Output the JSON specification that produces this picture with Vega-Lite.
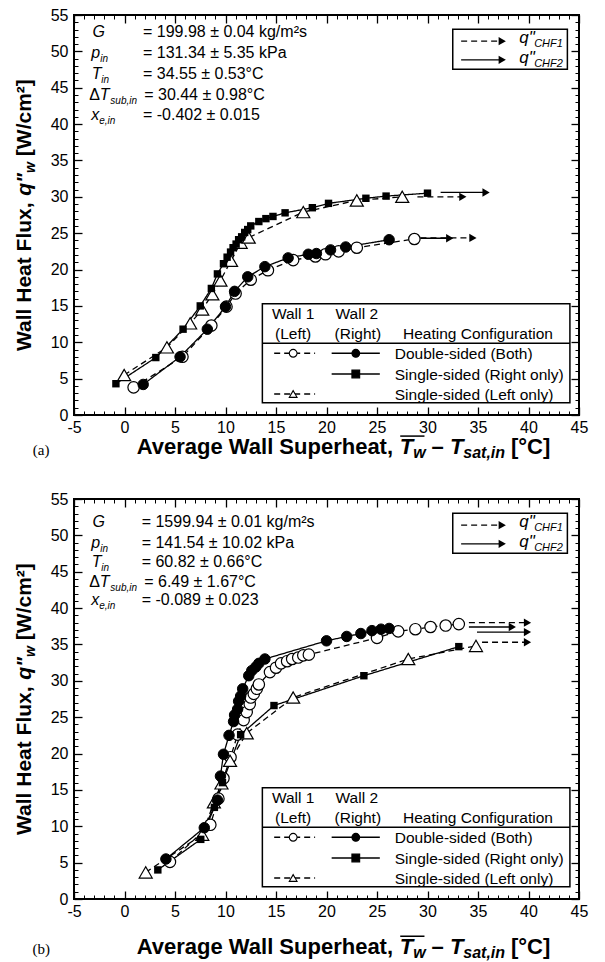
{
"$schema":"https://vega.github.io/schema/vega-lite/v6.json",
"background":"white",
"padding":{"left":12,"top":6,"right":5,"bottom":5},
"autosize":{"type":"pad"},
"config":{"font":"Liberation Sans","view":{"stroke":"black","strokeWidth":2},"axis":{"labelFont":"Liberation Sans"}},
"datasets":{
"sa":[
{"s":"dbl1","x":0.9,"q":3.8},{"s":"dbl1","x":5.74,"q":8.0},{"s":"dbl1","x":8.6,"q":12.3},{"s":"dbl1","x":10.1,"q":14.9},{"s":"dbl1","x":11.0,"q":16.7},{"s":"dbl1","x":12.5,"q":18.6},{"s":"dbl1","x":14.2,"q":19.9},{"s":"dbl1","x":16.7,"q":21.3},{"s":"dbl1","x":18.9,"q":21.8},{"s":"dbl1","x":19.9,"q":22.1},{"s":"dbl1","x":21.2,"q":22.5},{"s":"dbl1","x":23.0,"q":23.0},{"s":"dbl1","x":28.7,"q":24.2},
{"s":"dbl2","x":1.85,"q":4.2},{"s":"dbl2","x":5.5,"q":8.0},{"s":"dbl2","x":8.2,"q":11.8},{"s":"dbl2","x":10.0,"q":14.9},{"s":"dbl2","x":10.9,"q":17.0},{"s":"dbl2","x":12.2,"q":19.0},{"s":"dbl2","x":13.9,"q":20.4},{"s":"dbl2","x":16.2,"q":21.6},{"s":"dbl2","x":18.2,"q":22.1},{"s":"dbl2","x":19.0,"q":22.2},{"s":"dbl2","x":20.4,"q":22.7},{"s":"dbl2","x":21.9,"q":23.1},{"s":"dbl2","x":26.2,"q":24.1},
{"s":"rt","x":-0.85,"q":4.3},{"s":"rt","x":3.1,"q":7.9},{"s":"rt","x":5.8,"q":11.8},{"s":"rt","x":7.5,"q":15.0},{"s":"rt","x":8.6,"q":17.4},{"s":"rt","x":9.2,"q":19.4},{"s":"rt","x":9.8,"q":20.8},{"s":"rt","x":10.16,"q":21.7},{"s":"rt","x":10.5,"q":22.4},{"s":"rt","x":10.75,"q":23.0},{"s":"rt","x":11.05,"q":23.5},{"s":"rt","x":11.3,"q":24.1},{"s":"rt","x":11.6,"q":24.5},{"s":"rt","x":11.9,"q":25.1},{"s":"rt","x":12.2,"q":25.5},{"s":"rt","x":12.5,"q":26.0},{"s":"rt","x":13.3,"q":26.6},{"s":"rt","x":14.0,"q":27.0},{"s":"rt","x":14.7,"q":27.3},{"s":"rt","x":15.9,"q":27.8},{"s":"rt","x":18.6,"q":28.5},{"s":"rt","x":20.2,"q":29.1},{"s":"rt","x":23.9,"q":29.8},{"s":"rt","x":25.9,"q":30.1},{"s":"rt","x":30.0,"q":30.5},
{"s":"lt","x":-0.03,"q":5.5},{"s":"lt","x":4.2,"q":9.3},{"s":"lt","x":6.5,"q":12.6},{"s":"lt","x":7.7,"q":14.5},{"s":"lt","x":8.7,"q":16.6},{"s":"lt","x":9.5,"q":18.5},{"s":"lt","x":10.55,"q":21.2},{"s":"lt","x":11.5,"q":23.7},{"s":"lt","x":12.3,"q":24.4},{"s":"lt","x":17.7,"q":27.9},{"s":"lt","x":23.0,"q":29.5},{"s":"lt","x":27.5,"q":30.0}
],
"sb":[
{"s":"dbl1","x":4.5,"q":5.1},{"s":"dbl1","x":8.5,"q":10.2},{"s":"dbl1","x":9.3,"q":13.8},{"s":"dbl1","x":9.8,"q":16.6},{"s":"dbl1","x":10.5,"q":19.5},{"s":"dbl1","x":11.2,"q":22.6},{"s":"dbl1","x":11.8,"q":24.6},{"s":"dbl1","x":12.1,"q":25.7},{"s":"dbl1","x":12.4,"q":26.8},{"s":"dbl1","x":12.5,"q":27.7},{"s":"dbl1","x":12.8,"q":28.2},{"s":"dbl1","x":13.1,"q":28.9},{"s":"dbl1","x":13.3,"q":29.5},{"s":"dbl1","x":14.4,"q":31.2},{"s":"dbl1","x":15.0,"q":31.8},{"s":"dbl1","x":15.5,"q":32.4},{"s":"dbl1","x":16.1,"q":32.7},{"s":"dbl1","x":16.6,"q":33.0},{"s":"dbl1","x":17.2,"q":33.2},{"s":"dbl1","x":17.7,"q":33.5},{"s":"dbl1","x":18.25,"q":33.6},{"s":"dbl1","x":25.0,"q":35.9},{"s":"dbl1","x":27.1,"q":36.8},{"s":"dbl1","x":28.8,"q":37.1},{"s":"dbl1","x":30.3,"q":37.4},{"s":"dbl1","x":31.8,"q":37.6},{"s":"dbl1","x":33.1,"q":37.8},
{"s":"dbl2","x":4.1,"q":5.5},{"s":"dbl2","x":7.9,"q":9.8},{"s":"dbl2","x":9.2,"q":13.6},{"s":"dbl2","x":9.5,"q":16.9},{"s":"dbl2","x":9.8,"q":19.9},{"s":"dbl2","x":10.35,"q":22.5},{"s":"dbl2","x":10.8,"q":24.4},{"s":"dbl2","x":10.9,"q":25.3},{"s":"dbl2","x":11.2,"q":26.1},{"s":"dbl2","x":11.3,"q":27.2},{"s":"dbl2","x":11.5,"q":27.9},{"s":"dbl2","x":11.7,"q":28.9},{"s":"dbl2","x":12.3,"q":30.7},{"s":"dbl2","x":12.6,"q":31.4},{"s":"dbl2","x":13.0,"q":31.9},{"s":"dbl2","x":13.3,"q":32.4},{"s":"dbl2","x":13.9,"q":33.0},{"s":"dbl2","x":20.0,"q":35.5},{"s":"dbl2","x":22.0,"q":36.1},{"s":"dbl2","x":23.4,"q":36.5},{"s":"dbl2","x":24.5,"q":36.9},{"s":"dbl2","x":25.4,"q":37.1},{"s":"dbl2","x":26.2,"q":37.2},
{"s":"rt","x":3.3,"q":4.0},{"s":"rt","x":7.55,"q":8.2},{"s":"rt","x":8.9,"q":12.6},{"s":"rt","x":9.7,"q":16.0},{"s":"rt","x":11.5,"q":22.6},{"s":"rt","x":14.8,"q":26.6},{"s":"rt","x":23.7,"q":30.7},{"s":"rt","x":33.1,"q":34.7},
{"s":"lt","x":2.1,"q":3.66},{"s":"lt","x":7.7,"q":8.85},{"s":"lt","x":8.85,"q":13.3},{"s":"lt","x":9.6,"q":15.9},{"s":"lt","x":10.45,"q":19.0},{"s":"lt","x":12.1,"q":22.8},{"s":"lt","x":16.7,"q":27.7},{"s":"lt","x":28.1,"q":33.0},{"s":"lt","x":34.8,"q":34.8}
],
"aa":[
{"k":"CHF2","x":31.3,"x2":35.8,"q":30.6},{"k":"CHF1","x":29.0,"x2":33.5,"q":30.0},{"k":"CHF1","x":29.3,"x2":34.5,"q":24.35},{"k":"CHF2","x":29.3,"x2":32.2,"q":24.3},
{"k":"CHF1","x":33.33,"x2":37.4,"q":51.4},{"k":"CHF2","x":33.33,"x2":37.4,"q":48.83}
],
"ab":[
{"k":"CHF1","x":34.1,"x2":39.9,"q":38.0},{"k":"CHF2","x":34.1,"x2":38.4,"q":37.4},{"k":"CHF2","x":34.9,"x2":39.9,"q":36.7},{"k":"CHF1","x":35.4,"x2":39.9,"q":35.3},
{"k":"CHF1","x":33.33,"x2":37.4,"q":51.4},{"k":"CHF2","x":33.33,"x2":37.4,"q":48.83}
],
"lg":[
{"r":"box","x":32.5,"x2":43.85,"q":53.05,"q2":47.55},{"r":"box","x":13.65,"x2":44.1,"q":15.3,"q2":1.7},
{"r":"div","x":13.65,"x2":44.1,"q":9.86},
{"r":"sl","s":"dbl1","x":14.82,"x2":18.87,"q":8.49},{"r":"sl","s":"dbl2","x":20.51,"x2":25.28,"q":8.49},{"r":"sl","s":"rt","x":20.51,"x2":25.28,"q":5.64},{"r":"sl","s":"lt","x":14.82,"x2":18.87,"q":2.89},
{"r":"mk","s":"dbl1","x":16.7,"q":8.49},{"r":"mk","s":"dbl2","x":22.9,"q":8.49},{"r":"mk","s":"rt","x":22.9,"q":5.64},{"r":"mk","s":"lt","x":16.7,"q":2.89}
],
"lt":[
{"r":"lc","t":"Wall 1","x":16.7,"q":13.14},{"r":"lc","t":"(Left)","x":16.7,"q":10.39},{"r":"lc","t":"Wall 2","x":23.0,"q":13.14},{"r":"lc","t":"(Right)","x":23.1,"q":10.39},
{"r":"ll","t":"Heating Configuration","x":27.57,"q":10.39},{"r":"ll","t":"Double-sided (Both)","x":26.76,"q":7.73},{"r":"ll","t":"Single-sided (Right only)","x":26.76,"q":4.88},{"r":"ll","t":"Single-sided (Left only)","x":26.76,"q":2.13},
{"r":"cq","t":"q\"","x":39.08,"q":51.1},{"r":"cq","t":"q\"","x":39.08,"q":48.4},{"r":"cs","t":"CHF1","x":40.56,"q":51.1},{"r":"cs","t":"CHF2","x":40.56,"q":48.4},
{"r":"yt","t":"Wall Heat Flux,","x":-9.29,"q":8.8},{"r":"yti","t":"q\"","x":-9.29,"q":30.15},{"r":"yts","t":"w","x":-9.29,"q":33.29},{"r":"yt","t":"[W/cm²]","x":-9.29,"q":35.59}
],
"ta":[
{"r":"sym","t":"G","x":-3.16,"q":51.94},{"r":"sym","t":"p","x":-3.3,"q":49.08},{"r":"sym","t":"T","x":-3.25,"q":46.2},{"r":"sym","t":"T","x":-2.45,"q":43.37},{"r":"sym","t":"x","x":-3.3,"q":40.5},
{"r":"sub","t":"in","x":-2.4,"q":49.08},{"r":"sub","t":"in","x":-2.3,"q":46.2},{"r":"sub","t":"sub,in","x":-1.4,"q":43.37},{"r":"sub","t":"e,in","x":-2.5,"q":40.5},
{"r":"val","t":"= 199.98 ± 0.04 kg/m²s","x":1.83,"q":51.94},{"r":"val","t":"= 131.34 ± 5.35 kPa","x":1.83,"q":49.08},{"r":"val","t":"= 34.55 ± 0.53°C","x":1.83,"q":46.2},{"r":"val","t":"Δ","x":-3.49,"q":43.37},{"r":"val","t":"= 30.44 ± 0.98°C","x":1.95,"q":43.37},{"r":"val","t":"= -0.402 ± 0.015","x":1.83,"q":40.5},
{"r":"xt","t":"Average Wall Superheat,","x":1.21,"q":-5.36},{"r":"xti","t":"T","x":27.26,"q":-5.36},{"r":"xts","t":"w","x":28.58,"q":-5.36},{"r":"xt","t":"–","x":30.4,"q":-5.36},{"r":"xti","t":"T","x":32.22,"q":-5.36},{"r":"xts","t":"sat,in","x":33.54,"q":-5.36},{"r":"xt","t":"[°C]","x":38.26,"q":-5.36},
{"r":"ol","x":27.3,"x2":29.7,"q":-2.9},
{"r":"lab","t":"(a)","x":-8.25,"q":-5.5}
],
"tb":[
{"r":"sym","t":"G","x":-3.16,"q":51.1},{"r":"sym","t":"p","x":-3.3,"q":48.2},{"r":"sym","t":"T","x":-3.25,"q":45.6},{"r":"sym","t":"T","x":-2.45,"q":42.96},{"r":"sym","t":"x","x":-3.3,"q":40.44},
{"r":"sub","t":"in","x":-2.4,"q":48.2},{"r":"sub","t":"in","x":-2.3,"q":45.6},{"r":"sub","t":"sub,in","x":-1.4,"q":42.96},{"r":"sub","t":"e,in","x":-2.5,"q":40.44},
{"r":"val","t":"= 1599.94 ± 0.01 kg/m²s","x":1.7,"q":51.1},{"r":"val","t":"= 141.54 ± 10.02 kPa","x":1.7,"q":48.2},{"r":"val","t":"= 60.82 ± 0.66°C","x":1.7,"q":45.6},{"r":"val","t":"Δ","x":-3.49,"q":42.96},{"r":"val","t":"= 6.49 ± 1.67°C","x":1.95,"q":42.96},{"r":"val","t":"= -0.089 ± 0.023","x":1.7,"q":40.44},
{"r":"xt","t":"Average Wall Superheat,","x":1.21,"q":-7.57},{"r":"xti","t":"T","x":27.26,"q":-7.57},{"r":"xts","t":"w","x":28.58,"q":-7.57},{"r":"xt","t":"–","x":30.4,"q":-7.57},{"r":"xti","t":"T","x":32.22,"q":-7.57},{"r":"xts","t":"sat,in","x":33.54,"q":-7.57},{"r":"xt","t":"[°C]","x":38.26,"q":-7.57},
{"r":"ol","x":27.3,"x2":29.7,"q":-5.12},
{"r":"lab","t":"(b)","x":-8.25,"q":-7.57}
]
},
"vconcat":[
{
"width":505,"height":400,
"resolve":{"axis":{"x":"independent","y":"independent"}},
"encoding":{"x":{"field":"x","type":"quantitative","scale":{"domain":[-5,45],"nice":false,"zero":false},"axis":null},"y":{"field":"q","type":"quantitative","scale":{"domain":[0,55],"nice":false,"zero":false},"axis":null}},
"layer":[
{"data":{"name":"lg"},"transform":[{"filter":"datum.r == 'box'"}],"mark":{"type":"rect","fill":"white","stroke":"black","strokeWidth":1.5},"encoding":{"x2":{"field":"x2"},"y2":{"field":"q2"}}},
{"data":{"name":"sa"},"mark":{"type":"line","color":"black","strokeWidth":1.3},
"encoding":{
"x":{"field":"x","type":"quantitative","scale":{"domain":[-5,45],"nice":false,"zero":false},"axis":{"orient":"bottom","values":[-5,0,5,10,15,20,25,30,35,40,45],"labelExpr":"'' + datum.value","ticks":false,"domain":false,"grid":false,"labelFontSize":16,"labelColor":"black","labelPadding":4,"labelFlush":false,"labelOverlap":false,"title":null}},
"y":{"field":"q","type":"quantitative","scale":{"domain":[0,55],"nice":false,"zero":false},"axis":{"orient":"left","values":[0,5,10,15,20,25,30,35,40,45,50,55],"ticks":false,"domain":false,"grid":false,"labelFontSize":16,"labelColor":"black","labelPadding":6,"labelFlush":false,"labelOverlap":false,"title":null}},
"strokeDash":{"field":"s","type":"nominal","scale":{"domain":["dbl1","lt","CHF1","dbl2","rt","CHF2"],"range":[[6,4],[6,4],[6,4],[1,0],[1,0],[1,0]]},"legend":null},
"order":{"field":"q","type":"quantitative"}}},
{"data":{"name":"aa"},"mark":{"type":"rule","color":"black","strokeWidth":1.3},
"encoding":{
"x":{"field":"x","type":"quantitative","scale":{"domain":[-5,45],"nice":false,"zero":false},"axis":{"orient":"bottom","values":[-5,0,5,10,15,20,25,30,35,40,45],"labels":false,"domain":false,"grid":false,"tickSize":-8,"tickWidth":1.3,"tickColor":"black","title":null}},
"x2":{"field":"x2"},
"y":{"field":"q","type":"quantitative","scale":{"domain":[0,55],"nice":false,"zero":false},"axis":{"orient":"left","values":[0,5,10,15,20,25,30,35,40,45,50,55],"labels":false,"domain":false,"grid":false,"tickSize":-8,"tickWidth":1.3,"tickColor":"black","title":null}},
"strokeDash":{"field":"k","type":"nominal","scale":{"domain":["dbl1","lt","CHF1","dbl2","rt","CHF2"],"range":[[6,4],[6,4],[6,4],[1,0],[1,0],[1,0]]},"legend":null}}},
{"data":{"name":"aa"},"mark":{"type":"point","shape":"triangle-right","filled":true,"color":"black","opacity":1,"size":70},
"encoding":{
"x":{"field":"x2","type":"quantitative","scale":{"domain":[-5,45],"nice":false,"zero":false},"axis":{"orient":"bottom","values":[-5,-4,-3,-2,-1,0,1,2,3,4,5,6,7,8,9,10,11,12,13,14,15,16,17,18,19,20,21,22,23,24,25,26,27,28,29,30,31,32,33,34,35,36,37,38,39,40,41,42,43,44,45],"labels":false,"domain":false,"grid":false,"tickSize":-4,"tickWidth":1,"tickColor":"black","title":null}},
"y":{"field":"q","type":"quantitative","scale":{"domain":[0,55],"nice":false,"zero":false},"axis":{"orient":"left","values":[0,1,2,3,4,5,6,7,8,9,10,11,12,13,14,15,16,17,18,19,20,21,22,23,24,25,26,27,28,29,30,31,32,33,34,35,36,37,38,39,40,41,42,43,44,45,46,47,48,49,50,51,52,53,54,55],"labels":false,"domain":false,"grid":false,"tickSize":-4,"tickWidth":1,"tickColor":"black","title":null}}}},
{"data":{"name":"sa"},"transform":[{"filter":"datum.s == 'dbl1'"}],"mark":{"type":"point","shape":"circle","filled":true,"fill":"white","stroke":"black","strokeWidth":1.2,"opacity":1,"size":130},
"encoding":{
"x":{"field":"x","type":"quantitative","scale":{"domain":[-5,45],"nice":false,"zero":false},"axis":{"orient":"top","values":[-5,0,5,10,15,20,25,30,35,40,45],"labels":false,"domain":false,"grid":false,"tickSize":-8,"tickWidth":1.3,"tickColor":"black","title":null}},
"y":{"field":"q","type":"quantitative","scale":{"domain":[0,55],"nice":false,"zero":false},"axis":{"orient":"right","values":[0,5,10,15,20,25,30,35,40,45,50,55],"labels":false,"domain":false,"grid":false,"tickSize":-8,"tickWidth":1.3,"tickColor":"black","title":null}}}},
{"data":{"name":"sa"},"transform":[{"filter":"datum.s == 'lt'"}],"mark":{"type":"point","shape":"triangle-up","filled":true,"fill":"white","stroke":"black","strokeWidth":1.2,"opacity":1,"size":170},
"encoding":{
"x":{"field":"x","type":"quantitative","scale":{"domain":[-5,45],"nice":false,"zero":false},"axis":{"orient":"top","values":[-5,-4,-3,-2,-1,0,1,2,3,4,5,6,7,8,9,10,11,12,13,14,15,16,17,18,19,20,21,22,23,24,25,26,27,28,29,30,31,32,33,34,35,36,37,38,39,40,41,42,43,44,45],"labels":false,"domain":false,"grid":false,"tickSize":-4,"tickWidth":1,"tickColor":"black","title":null}},
"y":{"field":"q","type":"quantitative","scale":{"domain":[0,55],"nice":false,"zero":false},"axis":{"orient":"right","values":[0,1,2,3,4,5,6,7,8,9,10,11,12,13,14,15,16,17,18,19,20,21,22,23,24,25,26,27,28,29,30,31,32,33,34,35,36,37,38,39,40,41,42,43,44,45,46,47,48,49,50,51,52,53,54,55],"labels":false,"domain":false,"grid":false,"tickSize":-4,"tickWidth":1,"tickColor":"black","title":null}}}},
{"data":{"name":"sa"},"transform":[{"filter":"datum.s == 'dbl2'"}],"mark":{"type":"point","shape":"circle","filled":true,"fill":"black","stroke":"black","strokeWidth":1,"opacity":1,"size":110}},
{"data":{"name":"sa"},"transform":[{"filter":"datum.s == 'rt'"}],"mark":{"type":"point","shape":"square","filled":true,"fill":"black","opacity":1,"size":55}},
{"data":{"name":"lg"},"transform":[{"filter":"datum.r == 'div'"}],"mark":{"type":"rule","color":"black","strokeWidth":1.5},"encoding":{"x2":{"field":"x2"}}},
{"data":{"name":"lg"},"transform":[{"filter":"datum.r == 'sl'"}],"mark":{"type":"rule","color":"black","strokeWidth":1.3},"encoding":{"x2":{"field":"x2"},"strokeDash":{"field":"s","type":"nominal","scale":{"domain":["dbl1","lt","CHF1","dbl2","rt","CHF2"],"range":[[6,4],[6,4],[6,4],[1,0],[1,0],[1,0]]},"legend":null}}},
{"data":{"name":"lg"},"transform":[{"filter":"datum.r == 'mk'"}],"mark":{"type":"point","filled":true,"stroke":"black","strokeWidth":1.1,"opacity":1,"size":60},"encoding":{"shape":{"field":"s","type":"nominal","scale":{"domain":["dbl1","dbl2","rt","lt"],"range":["circle","circle","square","triangle-up"]},"legend":null},"fill":{"field":"s","type":"nominal","scale":{"domain":["dbl1","dbl2","rt","lt"],"range":["white","black","black","white"]},"legend":null}}},
{"data":{"name":"ta"},"transform":[{"filter":"datum.r == 'sym'"}],"mark":{"type":"text","align":"left","baseline":"alphabetic","fontSize":16,"fontStyle":"italic","color":"black"},"encoding":{"text":{"field":"t"}}},
{"data":{"name":"ta"},"transform":[{"filter":"datum.r == 'sub'"}],"mark":{"type":"text","align":"left","baseline":"alphabetic","fontSize":10,"fontStyle":"italic","dy":4,"color":"black"},"encoding":{"text":{"field":"t"}}},
{"data":{"name":"ta"},"transform":[{"filter":"datum.r == 'val'"}],"mark":{"type":"text","align":"left","baseline":"alphabetic","fontSize":16,"color":"black"},"encoding":{"text":{"field":"t"}}},
{"data":{"name":"ta"},"transform":[{"filter":"datum.r == 'xt'"}],"mark":{"type":"text","align":"left","baseline":"alphabetic","fontSize":22,"fontWeight":"bold","color":"black"},"encoding":{"text":{"field":"t"}}},
{"data":{"name":"ta"},"transform":[{"filter":"datum.r == 'xti'"}],"mark":{"type":"text","align":"left","baseline":"alphabetic","fontSize":22,"fontWeight":"bold","fontStyle":"italic","color":"black"},"encoding":{"text":{"field":"t"}}},
{"data":{"name":"ta"},"transform":[{"filter":"datum.r == 'xts'"}],"mark":{"type":"text","align":"left","baseline":"alphabetic","fontSize":16,"fontWeight":"bold","fontStyle":"italic","dy":4,"color":"black"},"encoding":{"text":{"field":"t"}}},
{"data":{"name":"ta"},"transform":[{"filter":"datum.r == 'ol'"}],"mark":{"type":"rule","color":"black","strokeWidth":1.5},"encoding":{"x2":{"field":"x2"}}},
{"data":{"name":"ta"},"transform":[{"filter":"datum.r == 'lab'"}],"mark":{"type":"text","align":"center","baseline":"alphabetic","fontSize":15,"font":"Liberation Serif","color":"black"},"encoding":{"text":{"field":"t"}}},
{"data":{"name":"lt"},"transform":[{"filter":"datum.r == 'lc'"}],"mark":{"type":"text","align":"center","baseline":"alphabetic","fontSize":15.5,"color":"black"},"encoding":{"text":{"field":"t"}}},
{"data":{"name":"lt"},"transform":[{"filter":"datum.r == 'll'"}],"mark":{"type":"text","align":"left","baseline":"alphabetic","fontSize":15.5,"color":"black"},"encoding":{"text":{"field":"t"}}},
{"data":{"name":"lt"},"transform":[{"filter":"datum.r == 'cq'"}],"mark":{"type":"text","align":"left","baseline":"alphabetic","fontSize":17,"fontStyle":"italic","color":"black"},"encoding":{"text":{"field":"t"}}},
{"data":{"name":"lt"},"transform":[{"filter":"datum.r == 'cs'"}],"mark":{"type":"text","align":"left","baseline":"alphabetic","fontSize":11,"fontStyle":"italic","dy":4,"color":"black"},"encoding":{"text":{"field":"t"}}},
{"data":{"name":"lt"},"transform":[{"filter":"datum.r == 'yt'"}],"mark":{"type":"text","angle":270,"align":"left","baseline":"alphabetic","fontSize":21,"fontWeight":"bold","color":"black"},"encoding":{"text":{"field":"t"}}},
{"data":{"name":"lt"},"transform":[{"filter":"datum.r == 'yti'"}],"mark":{"type":"text","angle":270,"align":"left","baseline":"alphabetic","fontSize":21,"fontWeight":"bold","fontStyle":"italic","color":"black"},"encoding":{"text":{"field":"t"}}},
{"data":{"name":"lt"},"transform":[{"filter":"datum.r == 'yts'"}],"mark":{"type":"text","angle":270,"align":"left","baseline":"alphabetic","fontSize":14,"fontWeight":"bold","fontStyle":"italic","dy":4,"color":"black"},"encoding":{"text":{"field":"t"}}}
]
},
{
"width":505,"height":400,
"resolve":{"axis":{"x":"independent","y":"independent"}},
"encoding":{"x":{"field":"x","type":"quantitative","scale":{"domain":[-5,45],"nice":false,"zero":false},"axis":null},"y":{"field":"q","type":"quantitative","scale":{"domain":[0,55],"nice":false,"zero":false},"axis":null}},
"layer":[
{"data":{"name":"lg"},"transform":[{"filter":"datum.r == 'box'"}],"mark":{"type":"rect","fill":"white","stroke":"black","strokeWidth":1.5},"encoding":{"x2":{"field":"x2"},"y2":{"field":"q2"}}},
{"data":{"name":"sb"},"mark":{"type":"line","color":"black","strokeWidth":1.3},
"encoding":{
"x":{"field":"x","type":"quantitative","scale":{"domain":[-5,45],"nice":false,"zero":false},"axis":{"orient":"bottom","values":[-5,0,5,10,15,20,25,30,35,40,45],"labelExpr":"'' + datum.value","ticks":false,"domain":false,"grid":false,"labelFontSize":16,"labelColor":"black","labelPadding":4,"labelFlush":false,"labelOverlap":false,"title":null}},
"y":{"field":"q","type":"quantitative","scale":{"domain":[0,55],"nice":false,"zero":false},"axis":{"orient":"left","values":[0,5,10,15,20,25,30,35,40,45,50,55],"ticks":false,"domain":false,"grid":false,"labelFontSize":16,"labelColor":"black","labelPadding":6,"labelFlush":false,"labelOverlap":false,"title":null}},
"strokeDash":{"field":"s","type":"nominal","scale":{"domain":["dbl1","lt","CHF1","dbl2","rt","CHF2"],"range":[[6,4],[6,4],[6,4],[1,0],[1,0],[1,0]]},"legend":null},
"order":{"field":"q","type":"quantitative"}}},
{"data":{"name":"ab"},"mark":{"type":"rule","color":"black","strokeWidth":1.3},
"encoding":{
"x":{"field":"x","type":"quantitative","scale":{"domain":[-5,45],"nice":false,"zero":false},"axis":{"orient":"bottom","values":[-5,0,5,10,15,20,25,30,35,40,45],"labels":false,"domain":false,"grid":false,"tickSize":-8,"tickWidth":1.3,"tickColor":"black","title":null}},
"x2":{"field":"x2"},
"y":{"field":"q","type":"quantitative","scale":{"domain":[0,55],"nice":false,"zero":false},"axis":{"orient":"left","values":[0,5,10,15,20,25,30,35,40,45,50,55],"labels":false,"domain":false,"grid":false,"tickSize":-8,"tickWidth":1.3,"tickColor":"black","title":null}},
"strokeDash":{"field":"k","type":"nominal","scale":{"domain":["dbl1","lt","CHF1","dbl2","rt","CHF2"],"range":[[6,4],[6,4],[6,4],[1,0],[1,0],[1,0]]},"legend":null}}},
{"data":{"name":"ab"},"mark":{"type":"point","shape":"triangle-right","filled":true,"color":"black","opacity":1,"size":70},
"encoding":{
"x":{"field":"x2","type":"quantitative","scale":{"domain":[-5,45],"nice":false,"zero":false},"axis":{"orient":"bottom","values":[-5,-4,-3,-2,-1,0,1,2,3,4,5,6,7,8,9,10,11,12,13,14,15,16,17,18,19,20,21,22,23,24,25,26,27,28,29,30,31,32,33,34,35,36,37,38,39,40,41,42,43,44,45],"labels":false,"domain":false,"grid":false,"tickSize":-4,"tickWidth":1,"tickColor":"black","title":null}},
"y":{"field":"q","type":"quantitative","scale":{"domain":[0,55],"nice":false,"zero":false},"axis":{"orient":"left","values":[0,1,2,3,4,5,6,7,8,9,10,11,12,13,14,15,16,17,18,19,20,21,22,23,24,25,26,27,28,29,30,31,32,33,34,35,36,37,38,39,40,41,42,43,44,45,46,47,48,49,50,51,52,53,54,55],"labels":false,"domain":false,"grid":false,"tickSize":-4,"tickWidth":1,"tickColor":"black","title":null}}}},
{"data":{"name":"sb"},"transform":[{"filter":"datum.s == 'dbl1'"}],"mark":{"type":"point","shape":"circle","filled":true,"fill":"white","stroke":"black","strokeWidth":1.2,"opacity":1,"size":130},
"encoding":{
"x":{"field":"x","type":"quantitative","scale":{"domain":[-5,45],"nice":false,"zero":false},"axis":{"orient":"top","values":[-5,0,5,10,15,20,25,30,35,40,45],"labels":false,"domain":false,"grid":false,"tickSize":-8,"tickWidth":1.3,"tickColor":"black","title":null}},
"y":{"field":"q","type":"quantitative","scale":{"domain":[0,55],"nice":false,"zero":false},"axis":{"orient":"right","values":[0,5,10,15,20,25,30,35,40,45,50,55],"labels":false,"domain":false,"grid":false,"tickSize":-8,"tickWidth":1.3,"tickColor":"black","title":null}}}},
{"data":{"name":"sb"},"transform":[{"filter":"datum.s == 'lt'"}],"mark":{"type":"point","shape":"triangle-up","filled":true,"fill":"white","stroke":"black","strokeWidth":1.2,"opacity":1,"size":170},
"encoding":{
"x":{"field":"x","type":"quantitative","scale":{"domain":[-5,45],"nice":false,"zero":false},"axis":{"orient":"top","values":[-5,-4,-3,-2,-1,0,1,2,3,4,5,6,7,8,9,10,11,12,13,14,15,16,17,18,19,20,21,22,23,24,25,26,27,28,29,30,31,32,33,34,35,36,37,38,39,40,41,42,43,44,45],"labels":false,"domain":false,"grid":false,"tickSize":-4,"tickWidth":1,"tickColor":"black","title":null}},
"y":{"field":"q","type":"quantitative","scale":{"domain":[0,55],"nice":false,"zero":false},"axis":{"orient":"right","values":[0,1,2,3,4,5,6,7,8,9,10,11,12,13,14,15,16,17,18,19,20,21,22,23,24,25,26,27,28,29,30,31,32,33,34,35,36,37,38,39,40,41,42,43,44,45,46,47,48,49,50,51,52,53,54,55],"labels":false,"domain":false,"grid":false,"tickSize":-4,"tickWidth":1,"tickColor":"black","title":null}}}},
{"data":{"name":"sb"},"transform":[{"filter":"datum.s == 'dbl2'"}],"mark":{"type":"point","shape":"circle","filled":true,"fill":"black","stroke":"black","strokeWidth":1,"opacity":1,"size":110}},
{"data":{"name":"sb"},"transform":[{"filter":"datum.s == 'rt'"}],"mark":{"type":"point","shape":"square","filled":true,"fill":"black","opacity":1,"size":55}},
{"data":{"name":"lg"},"transform":[{"filter":"datum.r == 'div'"}],"mark":{"type":"rule","color":"black","strokeWidth":1.5},"encoding":{"x2":{"field":"x2"}}},
{"data":{"name":"lg"},"transform":[{"filter":"datum.r == 'sl'"}],"mark":{"type":"rule","color":"black","strokeWidth":1.3},"encoding":{"x2":{"field":"x2"},"strokeDash":{"field":"s","type":"nominal","scale":{"domain":["dbl1","lt","CHF1","dbl2","rt","CHF2"],"range":[[6,4],[6,4],[6,4],[1,0],[1,0],[1,0]]},"legend":null}}},
{"data":{"name":"lg"},"transform":[{"filter":"datum.r == 'mk'"}],"mark":{"type":"point","filled":true,"stroke":"black","strokeWidth":1.1,"opacity":1,"size":60},"encoding":{"shape":{"field":"s","type":"nominal","scale":{"domain":["dbl1","dbl2","rt","lt"],"range":["circle","circle","square","triangle-up"]},"legend":null},"fill":{"field":"s","type":"nominal","scale":{"domain":["dbl1","dbl2","rt","lt"],"range":["white","black","black","white"]},"legend":null}}},
{"data":{"name":"tb"},"transform":[{"filter":"datum.r == 'sym'"}],"mark":{"type":"text","align":"left","baseline":"alphabetic","fontSize":16,"fontStyle":"italic","color":"black"},"encoding":{"text":{"field":"t"}}},
{"data":{"name":"tb"},"transform":[{"filter":"datum.r == 'sub'"}],"mark":{"type":"text","align":"left","baseline":"alphabetic","fontSize":10,"fontStyle":"italic","dy":4,"color":"black"},"encoding":{"text":{"field":"t"}}},
{"data":{"name":"tb"},"transform":[{"filter":"datum.r == 'val'"}],"mark":{"type":"text","align":"left","baseline":"alphabetic","fontSize":16,"color":"black"},"encoding":{"text":{"field":"t"}}},
{"data":{"name":"tb"},"transform":[{"filter":"datum.r == 'xt'"}],"mark":{"type":"text","align":"left","baseline":"alphabetic","fontSize":22,"fontWeight":"bold","color":"black"},"encoding":{"text":{"field":"t"}}},
{"data":{"name":"tb"},"transform":[{"filter":"datum.r == 'xti'"}],"mark":{"type":"text","align":"left","baseline":"alphabetic","fontSize":22,"fontWeight":"bold","fontStyle":"italic","color":"black"},"encoding":{"text":{"field":"t"}}},
{"data":{"name":"tb"},"transform":[{"filter":"datum.r == 'xts'"}],"mark":{"type":"text","align":"left","baseline":"alphabetic","fontSize":16,"fontWeight":"bold","fontStyle":"italic","dy":4,"color":"black"},"encoding":{"text":{"field":"t"}}},
{"data":{"name":"tb"},"transform":[{"filter":"datum.r == 'ol'"}],"mark":{"type":"rule","color":"black","strokeWidth":1.5},"encoding":{"x2":{"field":"x2"}}},
{"data":{"name":"tb"},"transform":[{"filter":"datum.r == 'lab'"}],"mark":{"type":"text","align":"center","baseline":"alphabetic","fontSize":15,"font":"Liberation Serif","color":"black"},"encoding":{"text":{"field":"t"}}},
{"data":{"name":"lt"},"transform":[{"filter":"datum.r == 'lc'"}],"mark":{"type":"text","align":"center","baseline":"alphabetic","fontSize":15.5,"color":"black"},"encoding":{"text":{"field":"t"}}},
{"data":{"name":"lt"},"transform":[{"filter":"datum.r == 'll'"}],"mark":{"type":"text","align":"left","baseline":"alphabetic","fontSize":15.5,"color":"black"},"encoding":{"text":{"field":"t"}}},
{"data":{"name":"lt"},"transform":[{"filter":"datum.r == 'cq'"}],"mark":{"type":"text","align":"left","baseline":"alphabetic","fontSize":17,"fontStyle":"italic","color":"black"},"encoding":{"text":{"field":"t"}}},
{"data":{"name":"lt"},"transform":[{"filter":"datum.r == 'cs'"}],"mark":{"type":"text","align":"left","baseline":"alphabetic","fontSize":11,"fontStyle":"italic","dy":4,"color":"black"},"encoding":{"text":{"field":"t"}}},
{"data":{"name":"lt"},"transform":[{"filter":"datum.r == 'yt'"}],"mark":{"type":"text","angle":270,"align":"left","baseline":"alphabetic","fontSize":21,"fontWeight":"bold","color":"black"},"encoding":{"text":{"field":"t"}}},
{"data":{"name":"lt"},"transform":[{"filter":"datum.r == 'yti'"}],"mark":{"type":"text","angle":270,"align":"left","baseline":"alphabetic","fontSize":21,"fontWeight":"bold","fontStyle":"italic","color":"black"},"encoding":{"text":{"field":"t"}}},
{"data":{"name":"lt"},"transform":[{"filter":"datum.r == 'yts'"}],"mark":{"type":"text","angle":270,"align":"left","baseline":"alphabetic","fontSize":14,"fontWeight":"bold","fontStyle":"italic","dy":4,"color":"black"},"encoding":{"text":{"field":"t"}}}
]
}
],
"spacing":84,
"bounds":"flush"
}
